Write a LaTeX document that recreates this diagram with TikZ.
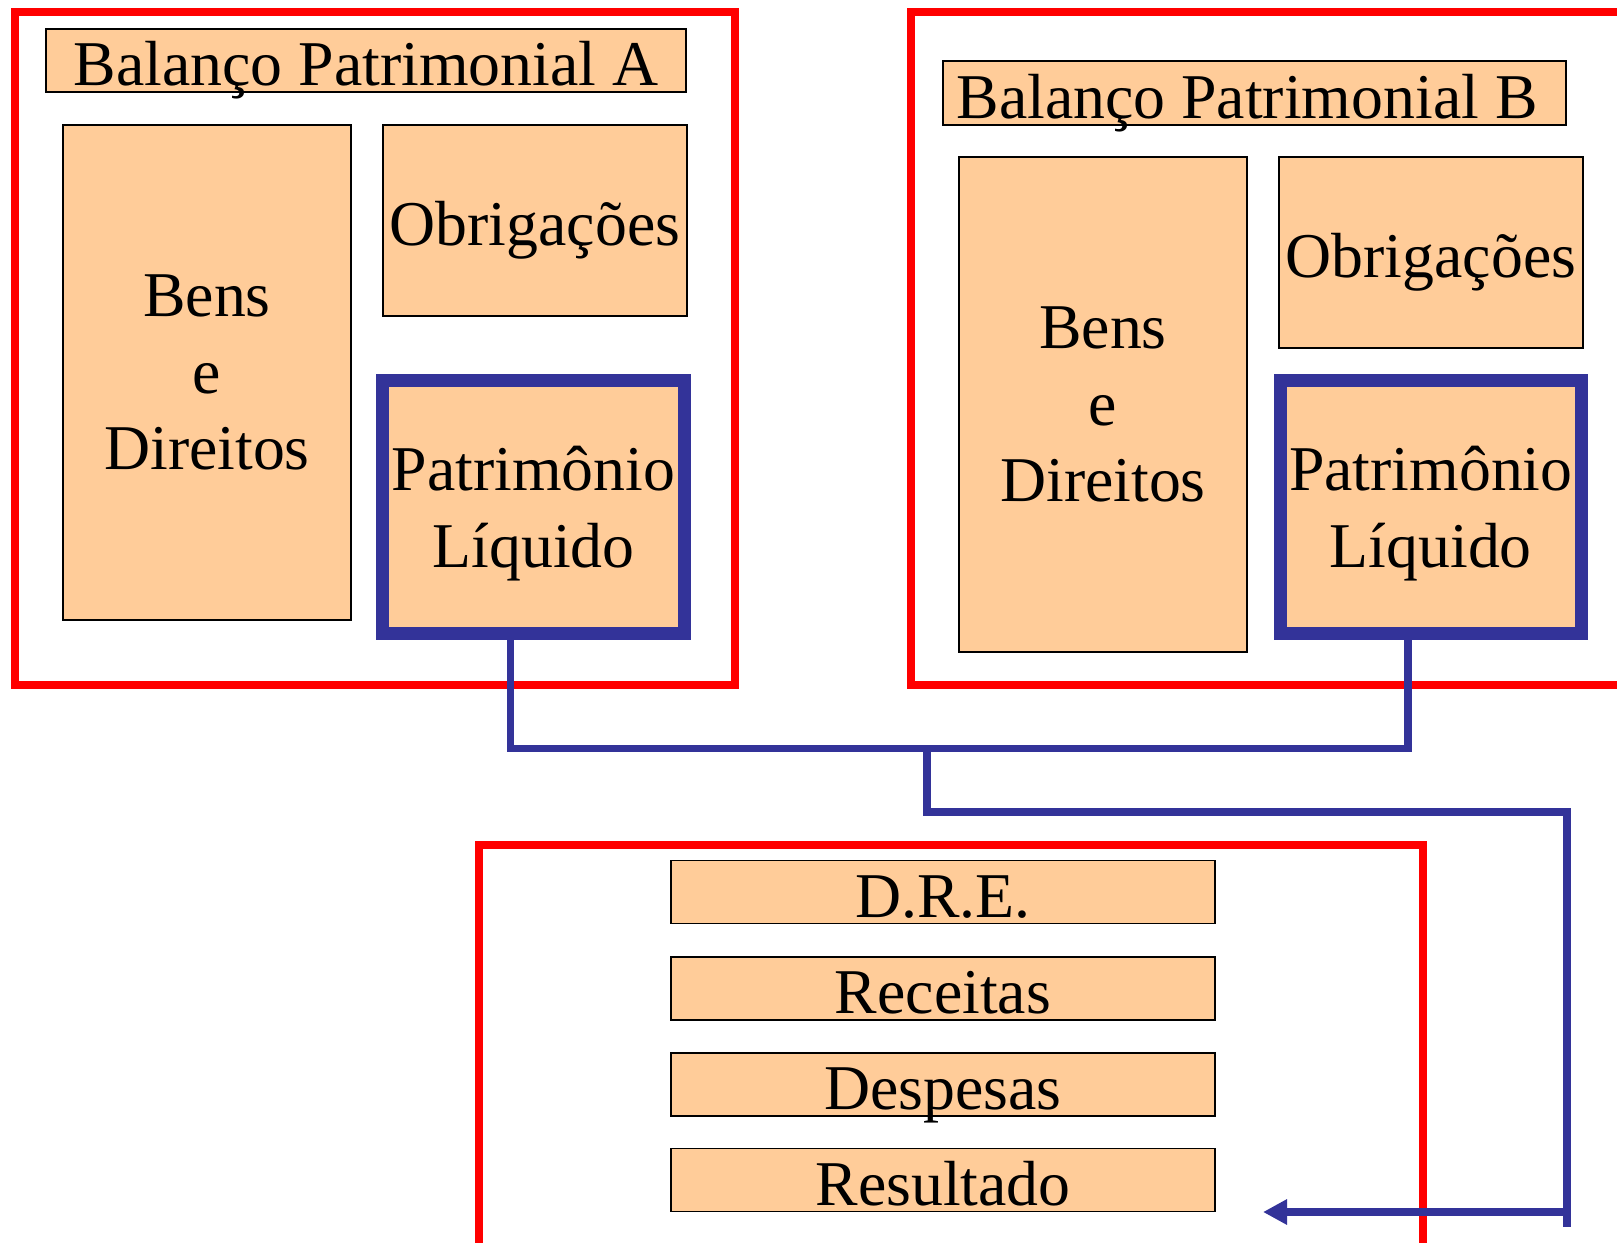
\documentclass[tikz,border=0pt]{standalone}
\usepackage{fontspec}
\setmainfont{Liberation Serif}
\usetikzlibrary{arrows.meta}
\definecolor{peach}{HTML}{FFCC99}
\definecolor{plblue}{HTML}{333399}
\newdimen\pxlen
\pxlen=0.02cm

\begin{document}
\begin{tikzpicture}[x=0.02cm,y=-0.02cm,
    box/.style={draw,fill=peach,line width=0.03cm,inner sep=0,align=center,font=\fontsize{36.3}{43.4}\selectfont},
    onebox/.style={box,text height=1cm,text depth=0cm},
    plbox/.style={box,draw=plblue,line width=0.26cm,text depth=0cm},
    frame/.style={draw=red,line width=0.16cm},
    link/.style={draw=plblue,line width=0.155cm},
]
    \useasboundingbox (0,0) rectangle (1617,1242);
    \clip (0,0) rectangle (1617,1242);

    % balanco A
    \draw [frame] (15,12) rectangle (735,685);
    \node [onebox,minimum width=640\pxlen,minimum height=63\pxlen] (titleA) at (366,60.5) {Balanço Patrimonial A};
    \node [box,minimum width=288\pxlen,minimum height=495\pxlen] (bensA) at (207,372.5) {Bens\\e\\Direitos};
    \node [onebox,minimum width=304\pxlen,minimum height=191\pxlen] (obrigA) at (535,220.5) {Obrigações};
    \node [plbox,minimum width=302\pxlen,minimum height=253.5\pxlen] (plA) at (533.5,506.75) {Patrimônio\\Líquido};

    % balanco B
    \draw [frame] (911,12) rectangle (1650,685);
    \node [onebox,minimum width=623\pxlen,minimum height=64\pxlen] (titleB) at (1254.5,93) {Balanço Patrimonial B\hspace{0.3cm}};
    \node [box,minimum width=288\pxlen,minimum height=495\pxlen] (bensB) at (1103,404.5) {Bens\\e\\Direitos};
    \node [onebox,minimum width=304\pxlen,minimum height=191\pxlen] (obrigB) at (1431,252.5) {Obrigações};
    \node [plbox,minimum width=301.5\pxlen,minimum height=253.5\pxlen] (plB) at (1430.8,506.75) {Patrimônio\\Líquido};

    % dre
    \draw [frame] (479,845) rectangle (1423,1270);
    \node [onebox,minimum width=544\pxlen,minimum height=63\pxlen] (dre) at (943,892) {D.R.E.};
    \node [onebox,minimum width=544\pxlen,minimum height=63\pxlen] (rec) at (943,988.5) {Receitas};
    \node [onebox,minimum width=544\pxlen,minimum height=63\pxlen] (desp) at (943,1084.5) {Despesas};
    \node [onebox,minimum width=544\pxlen,minimum height=63\pxlen] (res) at (943,1180) {Resultado};

    % ligacoes
    \coordinate (join) at (927,748.5);
    \coordinate (bend) at (1567,812);
    \coordinate (low) at (1567,1227);
    \coordinate (tip) at (1263,1212);
    \draw [link] ([xshift=-23\pxlen]plA.south) |- (join) -| ([xshift=-23\pxlen]plB.south);
    \draw [link] (join) |- (bend) -- (low);
    \draw [link,-{Triangle[length=0.48cm,width=0.48cm]}] (low |- tip) -- (tip);

\end{tikzpicture}
\end{document}
